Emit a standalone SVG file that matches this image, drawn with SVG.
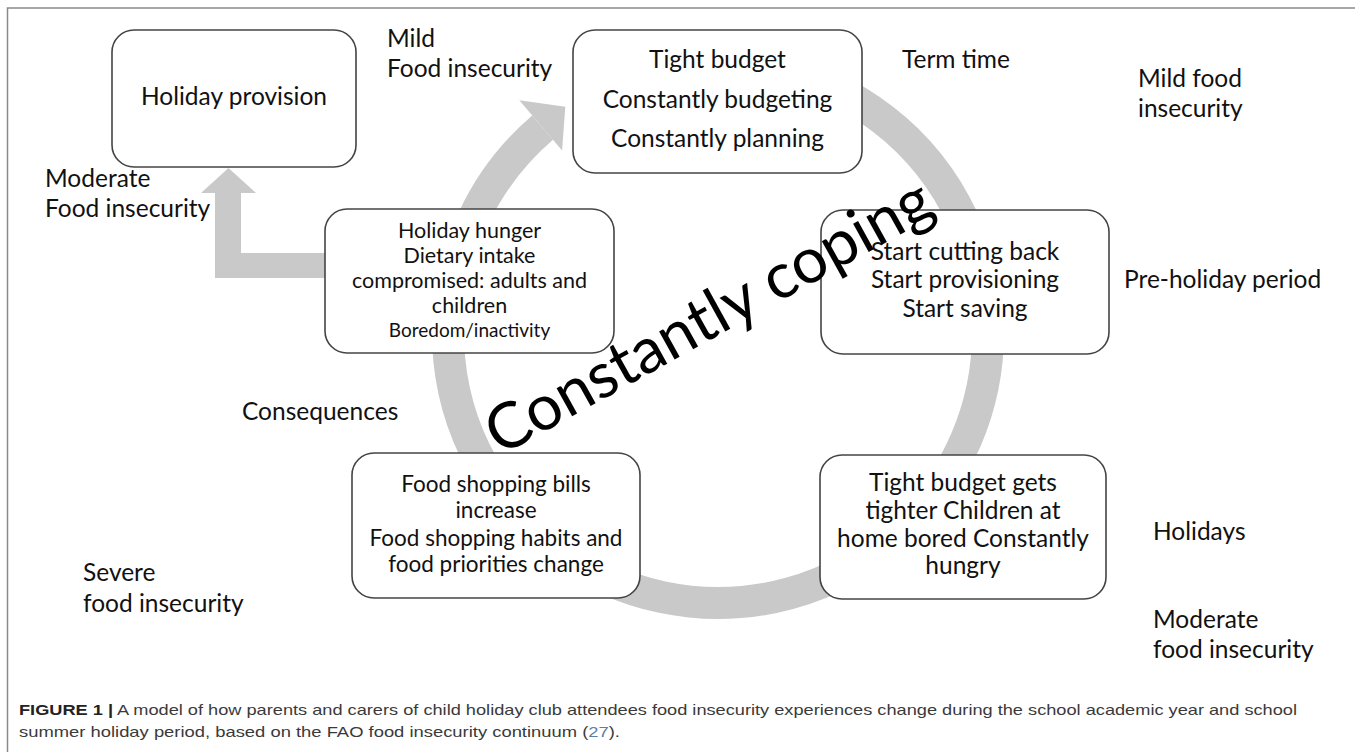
<svg xmlns="http://www.w3.org/2000/svg" width="1355" height="752" viewBox="0 0 1355 752">
<style>
.box{fill:#fff;stroke:#444;stroke-width:1.6}
.t{font-family:Lato,"Open Sans","Liberation Sans",sans-serif;fill:#111;font-size:24.5px}
.c{text-anchor:middle}
.m{font-size:22.5px}
.s{font-size:21.5px}
.xs{font-size:19px}
.big{font-family:Lato,"Open Sans","Liberation Sans",sans-serif;font-size:63.5px;fill:#000;text-anchor:middle}
.cap{font-family:"Liberation Sans",Arial,sans-serif;font-size:15px;fill:#3a3a3a}
</style>
<rect width="1355" height="752" fill="#fff"/>
<path d="M7.5 760 V8 H1360" fill="none" stroke="#8a8a8a" stroke-width="1.5"/>
<g id="connectors">
<path d="M764.9 67.1 A270 270 0 1 1 542.6 127.7" fill="none" stroke="#c9c9c9" stroke-width="32"/>
<polygon points="519.3,100.3 565.3,106.7 562.1,150.5" fill="#c9c9c9"/>
<polygon points="340,253 241,253 241,193 256,193 228.5,168 201,193 215,193 215,278 340,278" fill="#c9c9c9"/>
</g>
<g id="holiday-provision">
<rect class="box" x="112" y="30" width="244" height="137" rx="22"/>
<text class="t c" x="234" y="105">Holiday provision</text>
</g>
<g id="term-time-box">
<rect class="box" x="573" y="30" width="289" height="143" rx="22"/>
<text class="t c" x="717.5" y="68">Tight budget</text>
<text class="t c" x="717.5" y="108">Constantly budgeting</text>
<text class="t c" x="717.5" y="147">Constantly planning</text>
</g>
<g id="holiday-hunger">
<rect class="box" x="325" y="209" width="289" height="144" rx="22"/>
<text class="t c s" x="469.5" y="238">Holiday hunger</text>
<text class="t c s" x="469.5" y="263">Dietary intake</text>
<text class="t c s" x="469.5" y="288">compromised: adults and</text>
<text class="t c s" x="469.5" y="313">children</text>
<text class="t c xs" x="469.5" y="337">Boredom/inactivity</text>
</g>
<g id="pre-holiday-box">
<rect class="box" x="821" y="210" width="288" height="144" rx="22"/>
<text class="t c" x="965" y="260">Start cutting back</text>
<text class="t c" x="965" y="288">Start provisioning</text>
<text class="t c" x="965" y="317">Start saving</text>
</g>
<g id="consequences-box">
<rect class="box" x="352" y="453" width="288" height="145" rx="22"/>
<text class="t c m" x="496" y="492">Food shopping bills</text>
<text class="t c m" x="496" y="518">increase</text>
<text class="t c m" x="496" y="546">Food shopping habits and</text>
<text class="t c m" x="496" y="572">food priorities change</text>
</g>
<g id="holidays-box">
<rect class="box" x="820" y="455" width="286" height="144" rx="22"/>
<text class="t c" x="963" y="491" font-size="24">Tight budget gets</text>
<text class="t c" x="963" y="518.5" font-size="24">tighter Children at</text>
<text class="t c" x="963" y="546.5" font-size="24">home bored Constantly</text>
<text class="t c" x="963" y="573.5" font-size="24">hungry</text>
</g>
<g id="labels">
<text class="t" x="387" y="47">Mild</text>
<text class="t" x="387" y="77">Food insecurity</text>
<text class="t" x="902" y="68">Term time</text>
<text class="t" x="1138" y="87">Mild food</text>
<text class="t" x="1138" y="117">insecurity</text>
<text class="t" x="45" y="187">Moderate</text>
<text class="t" x="45" y="217">Food insecurity</text>
<text class="t" x="1124" y="288">Pre-holiday period</text>
<text class="t" x="242" y="420">Consequences</text>
<text class="t" x="1153" y="540">Holidays</text>
<text class="t" x="83" y="581">Severe</text>
<text class="t" x="83" y="612">food insecurity</text>
<text class="t" x="1153" y="628">Moderate</text>
<text class="t" x="1153" y="658">food insecurity</text>
</g>
<g id="coping">
<text class="big" x="719" y="335" transform="rotate(-29 719 335)">Constantly coping</text>
</g>
<g id="caption">
<text class="cap" x="19" y="715" textLength="1278" lengthAdjust="spacingAndGlyphs"><tspan font-weight="bold" fill="#222">FIGURE 1 |</tspan> A model of how parents and carers of child holiday club attendees food insecurity experiences change during the school academic year and school</text>
<text class="cap" x="19" y="737" textLength="601" lengthAdjust="spacingAndGlyphs">summer holiday period, based on the FAO food insecurity continuum (<tspan fill="#5a7ea6">27</tspan>).</text>
</g>
</svg>
